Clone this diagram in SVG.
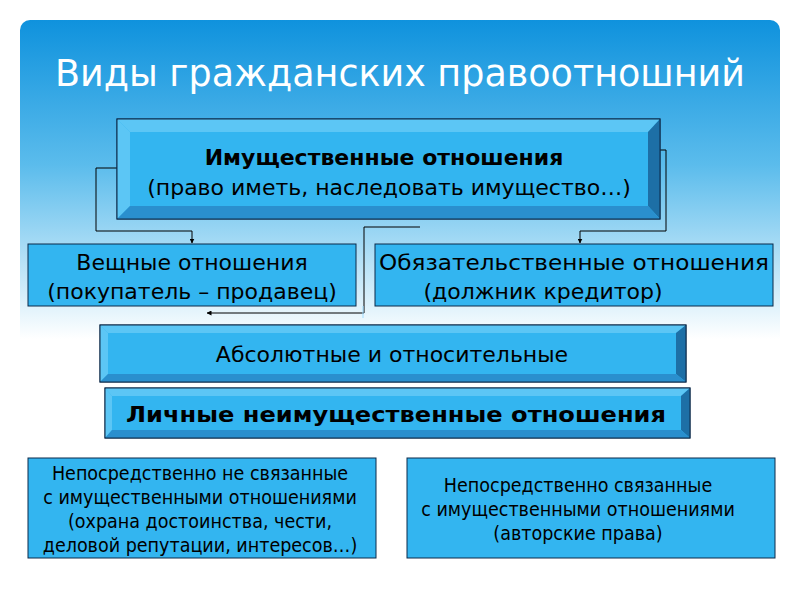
<svg xmlns="http://www.w3.org/2000/svg" width="800" height="600" viewBox="0 0 800 600">
<defs>
<linearGradient id="bg" x1="0" y1="0" x2="0" y2="1">
<stop offset="0" stop-color="#0f92dd"/><stop offset="0.25" stop-color="#5bbcec"/><stop offset="0.55" stop-color="#ffffff"/><stop offset="1" stop-color="#ffffff"/>
</linearGradient>
<marker id="ah" viewBox="0 0 10 10" refX="9" refY="5" markerWidth="5" markerHeight="5" orient="auto"><path d="M0,0L10,5L0,10z" fill="#000"/></marker>
<style>
.face{fill:#33b5f0;stroke:#0d2a4a;stroke-width:1}
.lt{fill:#5cc6f5}.dk{fill:#1d6fa6}.md{fill:#2a8fce}
.t{font-family:"DejaVu Sans",sans-serif;font-size:22px;fill:#000;text-anchor:middle}
.s{font-family:"DejaVu Sans Condensed","DejaVu Sans",sans-serif;font-size:19.5px;fill:#000;text-anchor:middle}
.b{font-weight:bold}
.c{fill:none;stroke:#000;stroke-width:1}
</style>
</defs>
<rect width="800" height="600" fill="#fff"/>
<rect x="20" y="20" width="760" height="580" rx="10" fill="url(#bg)"/>
<text x="400" y="86" font-family="'DejaVu Sans Condensed','DejaVu Sans',sans-serif" font-size="38" fill="#fff" text-anchor="middle" textLength="690" lengthAdjust="spacingAndGlyphs">Виды  гражданских правоотношний</text>

<g id="connectors">
<polyline class="c" points="117,168 96,168 96,231 192,231 192,243" marker-end="url(#ah)"/>
<polyline class="c" points="660,150 666,150 666,231 580,231 580,243" marker-end="url(#ah)"/>
<polyline class="c" points="420,227 364,227 364,313 207,313" marker-end="url(#ah)"/>
<line x1="363" y1="306" x2="363" y2="318" stroke="#9fdcff" stroke-width="1"/>
</g>

<g id="n-top">
<rect x="117" y="119" width="543" height="100" class="face"/>
<polygon points="117,119 660,119 648,132 130,132" class="lt"/>
<polygon points="117,119 130,132 130,206 117,219" class="lt"/>
<polygon points="660,119 648,132 648,206 660,219" class="dk"/>
<polygon points="117,219 130,206 648,206 660,219" class="md"/>
<rect x="117" y="119" width="543" height="100" fill="none" stroke="#0d2a4a"/>
<text x="384" y="165" class="t b" font-size="23">Имущественные отношения</text>
<text x="389" y="195" class="t">(право иметь, наследовать имущество…)</text>
</g>

<g id="n-veshch">
<rect x="28" y="244" width="328" height="62" class="face"/>
<text x="192" y="270" class="t">Вещные отношения</text>
<text x="192" y="299" class="t">(покупатель – продавец)</text>
</g>

<g id="n-obyaz">
<rect x="375" y="244" width="398" height="62" class="face"/>
<text x="574" y="270" class="t" textLength="390" lengthAdjust="spacingAndGlyphs">Обязательственные отношения</text>
<text x="543" y="299" class="t">(должник кредитор)</text>
</g>

<g id="n-abs">
<rect x="100" y="325" width="586" height="57" class="face"/>
<polygon points="100,325 686,325 676,333 108,333" class="lt"/>
<polygon points="100,325 108,333 108,374 100,382" class="lt"/>
<polygon points="686,325 676,333 676,374 686,382" class="dk"/>
<polygon points="100,382 108,374 676,374 686,382" class="md"/>
<rect x="100" y="325" width="586" height="57" fill="none" stroke="#0d2a4a"/>
<text x="392" y="362" class="t">Абсолютные и относительные</text>
</g>

<g id="n-lich">
<rect x="105" y="388" width="585" height="50" class="face"/>
<polygon points="105,388 690,388 681,396 112,396" class="lt"/>
<polygon points="105,388 112,396 112,430 105,438" class="lt"/>
<polygon points="690,388 681,396 681,430 690,438" class="dk"/>
<polygon points="105,438 112,430 681,430 690,438" class="md"/>
<rect x="105" y="388" width="585" height="50" fill="none" stroke="#0d2a4a"/>
<text x="396" y="422" class="t b" font-size="23" textLength="540" lengthAdjust="spacingAndGlyphs">Личные неимущественные отношения</text>
</g>

<g id="n-nesvyaz">
<rect x="28" y="458" width="348" height="100" class="face"/>
<text x="200" y="480" class="s">Непосредственно не связанные</text>
<text x="200" y="504" class="s">с имущественными отношениями</text>
<text x="200" y="528" class="s">(охрана достоинства, чести,</text>
<text x="200" y="552" class="s">деловой репутации, интересов…)</text>
</g>

<g id="n-svyaz">
<rect x="407" y="458" width="368" height="100" class="face"/>
<text x="578" y="492" class="s">Непосредственно связанные</text>
<text x="578" y="516" class="s">с имущественными отношениями</text>
<text x="578" y="540" class="s">(авторские права)</text>
</g>
</svg>
